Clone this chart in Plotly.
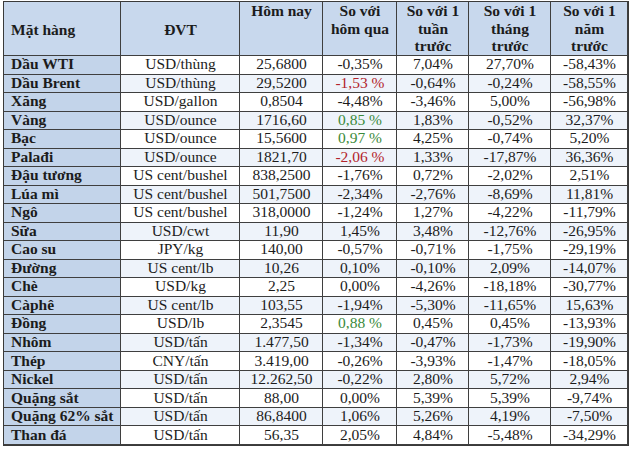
import plotly.graph_objects as go

mat_hang = ["Dầu WTI", "Dầu Brent", "Xăng", "Vàng", "Bạc", "Palađi", "Đậu tương", "Lúa mì",
            "Ngô", "Sữa", "Cao su", "Đường", "Chè", "Càphê", "Đồng", "Nhôm", "Thép", "Nickel",
            "Quặng sắt", "Quặng 62% sắt", "Than đá"]
dvt = ["USD/thùng", "USD/thùng", "USD/gallon", "USD/ounce", "USD/ounce", "USD/ounce",
       "US cent/bushel", "US cent/bushel", "US cent/bushel", "USD/cwt", "JPY/kg", "US cent/lb",
       "USD/kg", "US cent/lb", "USD/lb", "USD/tấn", "CNY/tấn", "USD/tấn", "USD/tấn", "USD/tấn", "USD/tấn"]
hom_nay = ["25,6800", "29,5200", "0,8504", "1716,60", "15,5600", "1821,70", "838,2500", "501,7500",
           "318,0000", "11,90", "140,00", "10,26", "2,25", "103,55", "2,3545", "1.477,50", "3.419,00",
           "12.262,50", "88,00", "86,8400", "56,35"]
hom_qua = ["-0,35%", "-1,53 %", "-4,48%", "0,85 %", "0,97 %", "-2,06 %", "-1,76%", "-2,34%",
           "-1,24%", "1,45%", "-0,57%", "0,10%", "0,00%", "-1,94%", "0,88 %", "-1,34%", "-0,26%",
           "-0,22%", "0,00%", "1,06%", "2,05%"]
tuan = ["7,04%", "-0,64%", "-3,46%", "1,83%", "4,25%", "1,33%", "0,72%", "-2,76%", "1,27%",
        "3,48%", "-0,71%", "-0,10%", "-4,26%", "-5,30%", "0,45%", "-0,47%", "-3,93%", "2,80%",
        "5,39%", "5,26%", "4,84%"]
thang = ["27,70%", "-0,24%", "5,00%", "-0,52%", "-0,74%", "-17,87%", "-2,02%", "-8,69%", "-4,22%",
         "-12,76%", "-1,75%", "2,09%", "-18,18%", "-11,65%", "0,45%", "-1,73%", "-1,47%", "5,72%",
         "5,39%", "4,19%", "-5,48%"]
nam = ["-58,43%", "-58,55%", "-56,98%", "32,37%", "5,20%", "36,36%", "2,51%", "11,81%", "-11,79%",
       "-26,95%", "-29,19%", "-14,07%", "-30,77%", "15,63%", "-13,93%", "-19,90%", "-18,05%",
       "2,94%", "-9,74%", "-7,50%", "-34,29%"]
headers = [["", "Mặt hàng", ""], ["", "ĐVT", ""], ["Hôm nay", "", ""], ["So với", "hôm qua", ""],
           ["So với 1", "tuần", "trước"], ["So với 1", "tháng", "trước"], ["So với 1", "năm", "trước"]]

# ---- layout geometry (not data) ----
col_edges = [0, 117, 236, 319, 393, 465, 547, 624]
HEAD = 2.92  # header height in row units
n = len(mat_hang)
row_edges = [0, HEAD] + [HEAD + i + 1 for i in range(n)]

HEADER_FILL, FIRST_FILL, WHITE, ALT = 0, 1, 2, 3
z = [[HEADER_FILL] * 7]
for i in range(n):
    body = WHITE if i % 2 == 0 else ALT
    z.append([FIRST_FILL] + [body] * 6)

red, green, black = "#b3232b", "#3a8a3a", "#1c1c1c"
qua_colors = [red if v in ("-1,53 %", "-2,06 %") else green if v.endswith(" %") else black
              for v in hom_qua]

fig = go.Figure()
fig.add_trace(go.Heatmap(
    x=col_edges, y=row_edges, z=z, zmin=0, zmax=3,
    colorscale=[[0, "#c8d8ed"], [1 / 3, "#c3d4ea"], [2 / 3, "#ffffff"], [1, "#eef3fa"]],
    xgap=1, ygap=1, showscale=False, hoverinfo="skip",
))

font = dict(family="Liberation Serif", size=15.5, color=black)
centers = [(col_edges[j] + col_edges[j + 1]) / 2 for j in range(7)]
row_y = [HEAD + i + 0.5 for i in range(n)]

# first column (left aligned, bold)
fig.add_trace(go.Scatter(
    x=[7] * n, y=row_y, mode="text", text=["<b>%s</b>" % m for m in mat_hang],
    textposition="middle right", textfont=font, hoverinfo="skip", showlegend=False,
    cliponaxis=False))

cols = [dvt, hom_nay, hom_qua, tuan, thang, nam]
for j, col in enumerate(cols, start=1):
    fig.add_trace(go.Scatter(
        x=[centers[j]] * n, y=row_y, mode="text", text=col, textposition="middle center",
        textfont=dict(family="Liberation Serif", size=15.5,
                      color=qua_colors if j == 3 else black),
        hoverinfo="skip", showlegend=False, cliponaxis=False))

# header lines
line_y = [0.52, 1.52, 2.46]
for j, lines in enumerate(headers):
    for k, t in enumerate(lines):
        if not t:
            continue
        if j == 0:
            fig.add_trace(go.Scatter(x=[7], y=[line_y[k] + 0.03], mode="text", text=["<b>%s</b>" % t],
                                     textposition="middle right", textfont=font,
                                     hoverinfo="skip", showlegend=False, cliponaxis=False))
        else:
            fig.add_trace(go.Scatter(x=[centers[j]], y=[line_y[k] + (0.03 if j == 1 else 0)],
                                     mode="text", text=["<b>%s</b>" % t],
                                     textposition="middle center", textfont=font,
                                     hoverinfo="skip", showlegend=False, cliponaxis=False))

fig.update_xaxes(range=[0, 624], showgrid=False, zeroline=False, showticklabels=False,
                 showline=True, mirror=True, linecolor="#3a3a3a", linewidth=1, ticks="")
fig.update_yaxes(range=[row_edges[-1], 0], showgrid=False, zeroline=False, showticklabels=False,
                 showline=True, mirror=True, linecolor="#3a3a3a", linewidth=1, ticks="")
fig.update_layout(width=630, height=450, margin=dict(l=4, r=2, t=2, b=5),
                  paper_bgcolor="white", plot_bgcolor="#3f3f3f", showlegend=False)
fig.write_html("out.html", config={"displayModeBar": False},
               post_script="document.body.style.margin='0';document.body.style.overflow='hidden';")
